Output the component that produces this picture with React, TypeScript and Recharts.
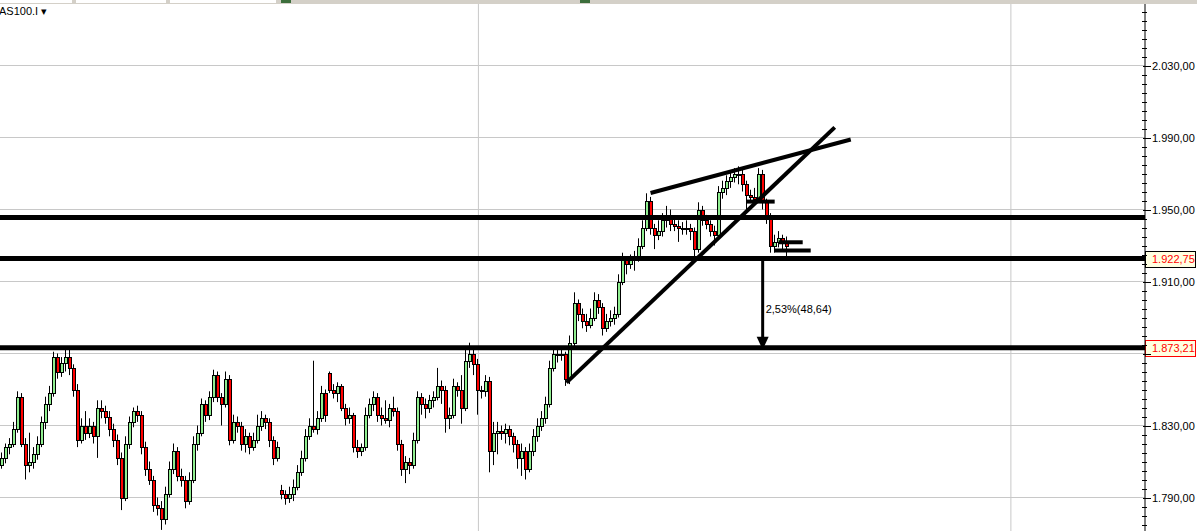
import React from "react";
import {
  ComposedChart,
  Bar,
  XAxis,
  YAxis,
  CartesianGrid,
  ReferenceLine,
  ReferenceDot,
} from "recharts";

// candle values left to right
const opens = [
  1808, 1812, 1818, 1820, 1828, 1846, 1820, 1808, 1810, 1814,
  1820, 1832, 1842, 1848, 1868, 1860, 1865, 1868, 1862, 1850,
  1822, 1830, 1826, 1830, 1824, 1840, 1838, 1835, 1828, 1822,
  1812, 1790, 1820, 1832, 1838, 1836, 1818, 1806, 1800, 1786,
  1784, 1778, 1792, 1806, 1816, 1802, 1800, 1788, 1800, 1820,
  1826, 1842, 1836, 1846, 1858, 1846, 1842, 1856, 1822, 1832,
  1830, 1820, 1824, 1818, 1822, 1830, 1834, 1832, 1822, 1812,
  1794, 1792, 1790, 1792, 1796, 1804, 1812, 1824, 1830, 1828,
  1834, 1848, 1859, 1850, 1848, 1852, 1840, 1834, 1836, 1818,
  1816, 1818, 1836, 1842, 1846, 1836, 1834, 1833, 1840, 1838,
  1820, 1806, 1810, 1808, 1822, 1846, 1842, 1840, 1844, 1846,
  1852, 1850, 1834, 1836, 1852, 1850, 1840, 1866, 1870, 1864,
  1850, 1849, 1855, 1816, 1826, 1827, 1826, 1828, 1824, 1820,
  1812, 1816, 1806, 1816, 1824, 1830, 1834, 1842, 1862, 1870,
  1869, 1870, 1856, 1876, 1898, 1892, 1888, 1886, 1890, 1900,
  1896, 1884, 1888, 1890, 1892, 1910, 1922, 1920, 1922, 1924,
  1930, 1940, 1955, 1940, 1936, 1938, 1944, 1946, 1942, 1941,
  1940, 1939, 1940, 1938, 1928, 1950, 1944, 1942, 1938, 1936,
  1960, 1962, 1966, 1968, 1970, 1970, 1964, 1958, 1957, 1956,
  1970, 1954, 1946, 1930, 1932, 1934, 1932,
];
const highs = [
  1815, 1820, 1823, 1832, 1849, 1848, 1823, 1826, 1818, 1824,
  1835, 1846, 1852, 1871, 1870, 1868, 1872, 1872, 1864, 1853,
  1834, 1838, 1834, 1832, 1844, 1844, 1841, 1838, 1831, 1825,
  1815, 1824, 1835, 1840, 1841, 1838, 1821, 1810, 1802, 1790,
  1788, 1796, 1810, 1820, 1818, 1806, 1802, 1804, 1824, 1830,
  1845, 1844, 1849, 1861, 1860, 1848, 1860, 1858, 1836, 1835,
  1832, 1828, 1826, 1826, 1836, 1838, 1836, 1834, 1824, 1821,
  1797, 1794, 1796, 1800, 1808, 1816, 1828, 1834, 1866, 1838,
  1852, 1850, 1860, 1853, 1854, 1853, 1842, 1840, 1837, 1822,
  1820, 1840, 1845, 1849, 1848, 1840, 1844, 1842, 1846, 1840,
  1822, 1813, 1812, 1826, 1849, 1848, 1845, 1847, 1849, 1862,
  1855, 1852, 1840, 1856, 1854, 1858, 1872, 1876, 1874, 1867,
  1852, 1858, 1857, 1832, 1832, 1830, 1831, 1830, 1826, 1822,
  1820, 1818, 1820, 1828, 1834, 1838, 1846, 1866, 1874, 1873,
  1872, 1871, 1880, 1904, 1900, 1895, 1892, 1895, 1904, 1903,
  1898, 1892, 1894, 1896, 1914, 1926, 1924, 1925, 1927, 1934,
  1944, 1959, 1957, 1942, 1944, 1948, 1952, 1950, 1946, 1944,
  1943, 1944, 1942, 1940, 1954, 1952, 1947, 1944, 1941, 1963,
  1966, 1969, 1971, 1973, 1974, 1972, 1966, 1961, 1962, 1973,
  1972, 1956, 1948, 1936, 1938, 1936, 1935,
];
const lows = [
  1806, 1809, 1814, 1818, 1826, 1818, 1800, 1804, 1806, 1811,
  1818, 1828, 1838, 1846, 1856, 1857, 1860, 1858, 1846, 1818,
  1820, 1822, 1823, 1820, 1812, 1834, 1831, 1824, 1818, 1808,
  1783, 1788, 1817, 1829, 1832, 1814, 1802, 1797, 1782, 1780,
  1772, 1775, 1790, 1803, 1799, 1796, 1784, 1786, 1798, 1816,
  1824, 1832, 1833, 1843, 1843, 1830, 1840, 1819, 1820, 1826,
  1816, 1815, 1814, 1816, 1820, 1827, 1828, 1818, 1808, 1810,
  1789, 1786, 1787, 1788, 1794, 1802, 1810, 1822, 1826, 1825,
  1832, 1832, 1848, 1845, 1843, 1838, 1830, 1831, 1815, 1812,
  1813, 1816, 1834, 1838, 1832, 1830, 1831, 1829, 1835, 1816,
  1802, 1798, 1803, 1806, 1820, 1836, 1834, 1837, 1840, 1844,
  1842, 1826, 1828, 1834, 1846, 1831, 1838, 1862, 1858, 1836,
  1845, 1846, 1804, 1808, 1814, 1822, 1820, 1819, 1815, 1806,
  1802, 1800, 1804, 1813, 1821, 1827, 1831, 1840, 1860, 1865,
  1866, 1852, 1853, 1874, 1888, 1884, 1882, 1884, 1888, 1892,
  1880, 1882, 1885, 1886, 1890, 1908, 1914, 1917, 1916, 1921,
  1928, 1938, 1936, 1928, 1933, 1935, 1940, 1938, 1938, 1932,
  1936, 1936, 1933, 1923, 1926, 1941, 1939, 1935, 1930, 1934,
  1956, 1958, 1962, 1965, 1964, 1960, 1950, 1954, 1953, 1954,
  1950, 1942, 1926, 1926, 1929, 1928, 1924,
];
const closes = [
  1812, 1818, 1820, 1828, 1846, 1820, 1808, 1810, 1814, 1820,
  1832, 1842, 1848, 1868, 1860, 1865, 1868, 1862, 1850, 1822,
  1830, 1826, 1830, 1824, 1840, 1838, 1835, 1828, 1822, 1812,
  1790, 1820, 1832, 1838, 1836, 1818, 1806, 1800, 1786, 1784,
  1778, 1792, 1806, 1816, 1802, 1800, 1788, 1800, 1820, 1826,
  1842, 1836, 1846, 1858, 1846, 1842, 1856, 1822, 1832, 1830,
  1820, 1824, 1818, 1822, 1830, 1834, 1832, 1822, 1812, 1818,
  1792, 1790, 1792, 1796, 1804, 1812, 1824, 1830, 1828, 1834,
  1848, 1836, 1850, 1848, 1852, 1840, 1834, 1836, 1818, 1816,
  1818, 1836, 1842, 1846, 1836, 1834, 1833, 1840, 1838, 1820,
  1806, 1810, 1808, 1822, 1846, 1842, 1840, 1844, 1846, 1852,
  1850, 1834, 1836, 1852, 1850, 1840, 1866, 1870, 1864, 1850,
  1849, 1855, 1816, 1826, 1827, 1826, 1828, 1824, 1820, 1812,
  1816, 1806, 1816, 1824, 1830, 1834, 1842, 1862, 1870, 1869,
  1870, 1856, 1876, 1898, 1892, 1888, 1886, 1890, 1900, 1896,
  1884, 1888, 1890, 1892, 1910, 1922, 1920, 1922, 1924, 1930,
  1940, 1955, 1940, 1936, 1938, 1944, 1946, 1942, 1941, 1940,
  1939, 1940, 1938, 1928, 1950, 1944, 1942, 1938, 1936, 1960,
  1962, 1966, 1968, 1970, 1970, 1964, 1958, 1957, 1956, 1970,
  1954, 1946, 1930, 1932, 1934, 1932, 1930,
];

// empty slots continue to the right of the last candle
const slotCount = 286;
const gridPrices = [1790, 1830, 1870, 1910, 1950, 1990, 2030];
const priceLabels = ["1.790,00", "1.830,00", "", "1.910,00", "1.950,00", "1.990,00", "2.030,00"];
const gridSlots = [119, 252];

// drawn levels and trend lines
const levelLines = [1945.6, 1922.75, 1873.21];
const levelBoxes = [
  { value: 1922.75, text: "1.922,75", border: "#000000" },
  { value: 1873.21, text: "1.873,21", border: "#ff0000" },
];
const trendLines = [
  { from: [141, 1853.8], to: [208, 1995.6] },
  { from: [162, 1959.2], to: [212, 1988.9] },
  { from: [186, 1954.4], to: [193, 1954.4] },
  { from: [194, 1931.8], to: [200, 1931.8] },
  { from: [193, 1927.2], to: [202, 1927.2] },
];
const arrowSlot = 190;
const arrowFrom = 1922.75;
const arrowTo = 1873.21;
const arrowText = "2,53%(48,64)";
const arrowTextAt = 1894.4;

const data = Array.from({ length: slotCount }, (_, i) =>
  i < closes.length
    ? { i, o: opens[i], h: highs[i], l: lows[i], c: closes[i], range: [lows[i], highs[i]] }
    : { i, range: null }
);

const minorTicks: number[] = [];
for (let v = 1775; v <= 2060; v += 5) minorTicks.push(v);

const font = "'Liberation Sans', Arial, sans-serif";

const Candle = (props: any) => {
  const { x, y, width, height, payload } = props;
  if (!payload || payload.o == null || height == null) return null;
  const { o, h, l, c } = payload;
  const top = Math.min(y, y + height);
  const hh = Math.abs(height);
  const k = hh / (h - l);
  const py = (v: number) => top + (h - v) * k;
  const cx = Math.round(x + width / 2);
  const bTop = Math.round(py(Math.max(o, c)));
  const bBot = Math.round(py(Math.min(o, c)));
  const up = c >= o;
  return (
    <g>
      <line x1={cx - 0.5} x2={cx - 0.5} y1={top} y2={top + hh} stroke="#000" strokeWidth={1} />
      <rect
        x={cx - 1.5}
        y={bTop + 0.5}
        width={3}
        height={Math.max(bBot - bTop, 1)}
        fill={up ? "#90ee90" : "#ff0000"}
        stroke="#000"
        strokeWidth={1}
      />
    </g>
  );
};

const PriceTick = (props: any) => {
  const { x, y, payload } = props;
  const v = payload.value;
  const idx = gridPrices.indexOf(v);
  const yy = Math.round(y) + 0.5;
  if (idx < 0) {
    return <line x1={x - 3} x2={x + 2} y1={yy} y2={yy} stroke="#000" />;
  }
  return (
    <g>
      <line x1={x - 2} x2={x + 6} y1={yy} y2={yy} stroke="#000" />
      {priceLabels[idx] && (
        <text x={x + 7} y={yy} dy="0.35em" fontSize={11} fontFamily={font} fill="#000">
          {priceLabels[idx]}
        </text>
      )}
    </g>
  );
};

const boxLabel = (text: string, border: string) => (props: any) => {
  const vb = props.viewBox;
  const left = vb.x + vb.width;
  return (
    <g>
      <rect x={left + 0.5} y={Math.round(vb.y) - 7.5} width={50} height={16} fill="#ffffe1" stroke={border} />
      <text x={left + 7} y={Math.round(vb.y) + 0.5} dy="0.35em" fontSize={11} fontFamily={font} fill="#ff0000">
        {text}
      </text>
    </g>
  );
};

export default function App() {
  return (
    <div style={{ position: "absolute", left: 0, top: 0, width: 1197, height: 531, background: "#fff", overflow: "hidden" }}>
      <div style={{ position: "absolute", left: 0, top: 0, width: 1197, height: 4, background: "#d4d0c8" }}>
        <div style={{ position: "absolute", left: 0, top: 0, width: 72, height: 3, background: "#fff" }} />
        <div style={{ position: "absolute", left: 76, top: 0, width: 90, height: 3, background: "#fff" }} />
        <div style={{ position: "absolute", left: 170, top: 0, width: 106, height: 3, background: "#fff" }} />
        <div style={{ position: "absolute", left: 281, top: 0, width: 10, height: 3, background: "#3c6e3c" }} />
        <div style={{ position: "absolute", left: 580, top: 0, width: 10, height: 3, background: "#3c6e3c" }} />
      </div>
      <div style={{ position: "absolute", left: -1, top: 5, fontFamily: font, fontSize: 11, color: "#000", zIndex: 2 }}>
        AS100.I ▾
      </div>
      <ComposedChart
        width={1197}
        height={531}
        data={data}
        margin={{ top: 4, right: 0, bottom: 0, left: 0 }}
        barCategoryGap={0}
      >
        <CartesianGrid
          stroke="#c8c8c8"
          horizontalValues={gridPrices}
          verticalValues={gridSlots}
        />
        <XAxis dataKey="i" type="category" hide />
        <YAxis
          orientation="right"
          type="number"
          width={52}
          domain={[1771.39, 2064.17]}
          allowDataOverflow
          ticks={minorTicks}
          interval={0}
          tickSize={0}
          tickMargin={0}
          tickLine={false}
          axisLine={{ stroke: "#000" }}
          tick={<PriceTick />}
        />
        <Bar dataKey="range" shape={Candle} isAnimationActive={false} />
        {levelLines.map((v) => (
          <ReferenceLine key={v} y={v} stroke="#000" strokeWidth={5} />
        ))}
        {trendLines.map((t, k) => (
          <ReferenceLine
            key={k}
            segment={[
              { x: t.from[0], y: t.from[1] },
              { x: t.to[0], y: t.to[1] },
            ]}
            stroke="#000"
            strokeWidth={4}
          />
        ))}
        <ReferenceLine
          segment={[
            { x: arrowSlot, y: arrowFrom },
            { x: arrowSlot, y: arrowTo + 3 },
          ]}
          stroke="#000"
          strokeWidth={3}
        />
        <ReferenceDot
          x={arrowSlot}
          y={arrowTo}
          shape={(p: any) => (
            <path d={`M${p.cx - 6},${p.cy - 11} L${p.cx + 6},${p.cy - 11} L${p.cx},${p.cy + 2} Z`} fill="#000" />
          )}
        />
        <ReferenceDot
          x={arrowSlot}
          y={arrowTextAt}
          shape={(p: any) => (
            <text x={p.cx + 3} y={p.cy} dy="0.35em" fontSize={11} fontFamily={font} fill="#000">
              {arrowText}
            </text>
          )}
        />
        {levelBoxes.map((b) => (
          <ReferenceLine
            key={b.text}
            y={b.value}
            stroke="none"
            label={boxLabel(b.text, b.border)}
          />
        ))}
      </ComposedChart>
    </div>
  );
}
